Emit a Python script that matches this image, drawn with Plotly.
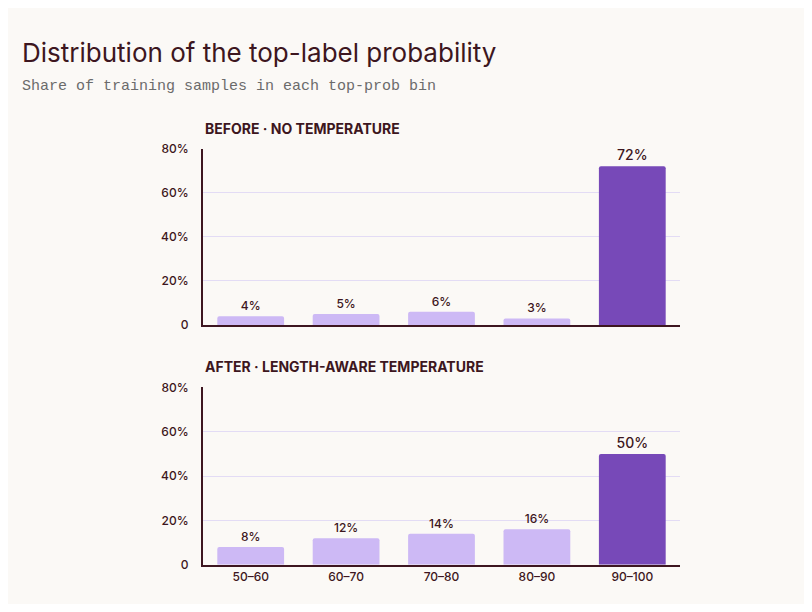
import plotly.graph_objects as go
from plotly.subplots import make_subplots

bins = ["50–60", "60–70", "70–80", "80–90", "90–100"]
before = [4, 5, 6, 3, 72]
after = [8, 12, 14, 16, 50]
y_ticks = [0, 20, 40, 60, 80]
y_tick_labels = ["0", "20%", "40%", "60%", "80%"]

LIGHT = "#cdb9f5"
DARK = "#7749b8"
INK = "#3d1620"
BG = "#fbf9f6"
GRID = "#e3dcf5"

W, H, OFF = 796, 596, 8  # page body has an 8px margin


def px_x(x):
    return (x - OFF) / W


def px_y(y):
    return 1 - (y - OFF) / H


fig = make_subplots(rows=2, cols=1)

for row, vals in [(1, before), (2, after)]:
    colors = [DARK if i == len(vals) - 1 else LIGHT for i in range(len(vals))]
    sizes = [14 if i == len(vals) - 1 else 12 for i in range(len(vals))]
    fig.add_trace(go.Bar(
        x=bins, y=vals, width=0.7,
        marker=dict(color=colors, line=dict(width=0), cornerradius=2),
        text=[f"{v}%" for v in vals], textposition="outside",
        textfont=dict(size=sizes, color=INK, family="Inter", weight=500),
        cliponaxis=False, showlegend=False,
    ), row=row, col=1)

fig.update_xaxes(domain=[px_x(203), px_x(680)], showline=True, linecolor=INK, linewidth=2,
                 ticks="", tickfont=dict(size=12, color=INK, family="Inter", weight=500))
fig.update_xaxes(showticklabels=False, row=1, col=1)
fig.update_yaxes(range=[0, 80], tickvals=y_ticks, ticktext=y_tick_labels,
                 showline=True, linecolor=INK, linewidth=2, gridcolor=GRID,
                 zeroline=False, ticks="", ticklabelstandoff=10,
                 tickfont=dict(size=12, color=INK, family="Inter", weight=500))
fig.update_yaxes(domain=[px_y(325), px_y(144)], row=1, col=1)
fig.update_yaxes(domain=[px_y(571), px_y(389)], row=2, col=1)

texts = [
    ("Distribution of the top-label probability", 20, 45,
     dict(size=26, color=INK, family="Inter")),
    ("Share of training samples in each top-prob bin", 20, 80,
     dict(size=15, color="#6b6b6b", family="Liberation Mono, monospace")),
    ("<b>BEFORE · NO TEMPERATURE</b>", 203, 123, dict(size=14, color=INK, family="Inter")),
    ("<b>AFTER · LENGTH-AWARE TEMPERATURE</b>", 203, 368, dict(size=14, color=INK, family="Inter")),
]
anns = [dict(text=t, x=px_x(x), y=px_y(y), xref="paper", yref="paper",
             xanchor="left", yanchor="middle", showarrow=False, font=f)
        for t, x, y, f in texts]

fig.update_layout(
    width=W, height=H,
    margin=dict(l=0, r=0, t=0, b=0),
    paper_bgcolor=BG, plot_bgcolor=BG,
    annotations=anns,
)

fig.write_html("out.html")
